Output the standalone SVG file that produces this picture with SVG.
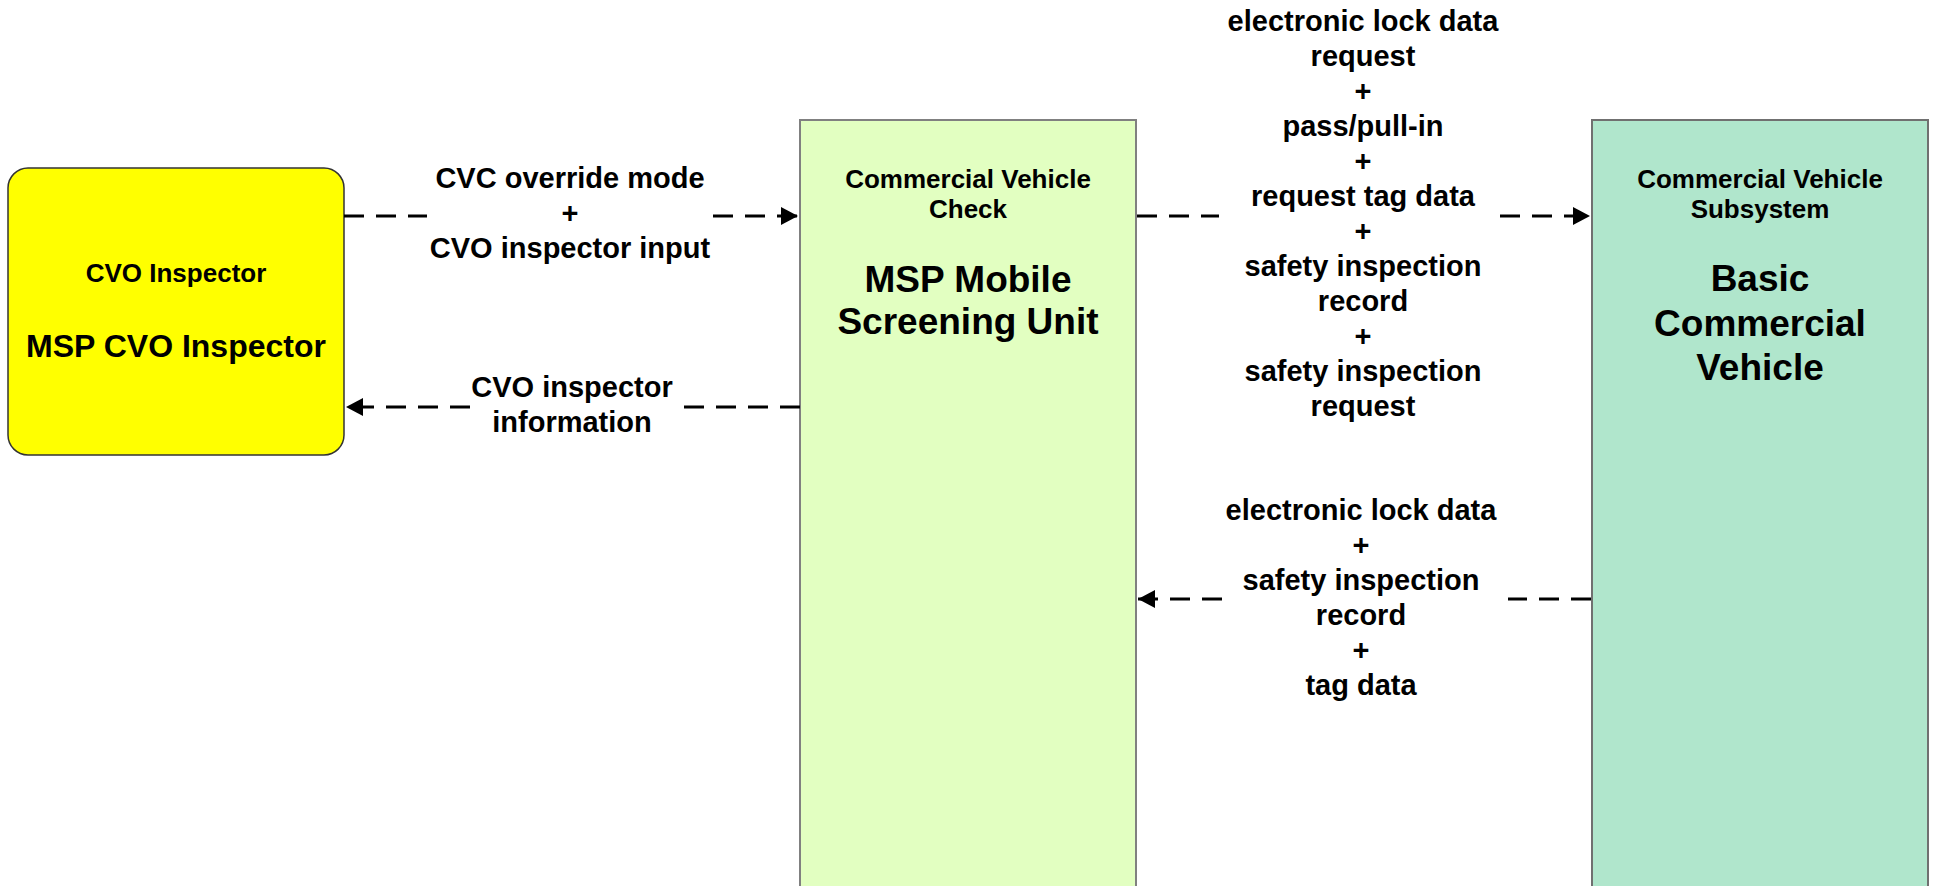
<svg xmlns="http://www.w3.org/2000/svg" width="1937" height="886" viewBox="0 0 1937 886">
<defs>
<style>
text{font-family:"Liberation Sans",Arial,sans-serif;font-weight:bold;fill:#000;text-anchor:middle}
.sub{font-size:26px}
.big{font-size:37px}
.lbl{font-size:29px}
.conn{fill:none;stroke:#000;stroke-width:3;stroke-dasharray:20 12}
</style>
<marker id="arr" viewBox="0 0 17 18" refX="17" refY="9" markerWidth="17" markerHeight="18" markerUnits="userSpaceOnUse" orient="auto">
<path d="M0,0 L17,9 L0,18 Z" fill="#000"/>
</marker>
</defs>
<rect width="1937" height="886" fill="#fff"/>
<g id="cvo-inspector">
<rect x="8" y="168" width="336" height="287" rx="20" ry="20" fill="#ffff00" stroke="#333" stroke-width="1.5"/>
<text class="sub" x="176" y="282">CVO Inspector</text>
<text x="176" y="357" style="font-size:32px">MSP CVO Inspector</text>
</g>
<g id="msp-mobile-screening-unit">
<rect x="800" y="120" width="336" height="790" fill="#e2ffc1" stroke="#808080" stroke-width="2"/>
<text class="sub" x="968" y="188">Commercial Vehicle</text>
<text class="sub" x="968" y="218">Check</text>
<text class="big" x="968" y="292">MSP Mobile</text>
<text class="big" x="968" y="334">Screening Unit</text>
</g>
<g id="basic-commercial-vehicle">
<rect x="1592" y="120" width="336" height="790" fill="#b0e6cc" stroke="#707070" stroke-width="2"/>
<text class="sub" x="1760" y="188">Commercial Vehicle</text>
<text class="sub" x="1760" y="218">Subsystem</text>
<text class="big" x="1760" y="291">Basic</text>
<text class="big" x="1760" y="336">Commercial</text>
<text class="big" x="1760" y="380">Vehicle</text>
</g>
<g id="connectors">
<path class="conn" d="M344,216 H427"/>
<path class="conn" d="M713,216 H798" marker-end="url(#arr)"/>
<text class="lbl" x="570" y="188">CVC override mode</text>
<text class="lbl" x="570" y="223">+</text>
<text class="lbl" x="570" y="258">CVO inspector input</text>

<path class="conn" d="M800,407 H673"/>
<path class="conn" d="M470,407 H346" marker-end="url(#arr)"/>
<text class="lbl" x="572" y="397">CVO inspector</text>
<text class="lbl" x="572" y="432">information</text>

<path class="conn" d="M1137,216 H1219"/>
<path class="conn" d="M1500,216 H1590" marker-end="url(#arr)"/>
<text class="lbl" x="1363" y="31">electronic lock data</text>
<text class="lbl" x="1363" y="66">request</text>
<text class="lbl" x="1363" y="101">+</text>
<text class="lbl" x="1363" y="136">pass/pull-in</text>
<text class="lbl" x="1363" y="171">+</text>
<text class="lbl" x="1363" y="206">request tag data</text>
<text class="lbl" x="1363" y="241">+</text>
<text class="lbl" x="1363" y="276">safety inspection</text>
<text class="lbl" x="1363" y="311">record</text>
<text class="lbl" x="1363" y="346">+</text>
<text class="lbl" x="1363" y="381">safety inspection</text>
<text class="lbl" x="1363" y="416">request</text>

<path class="conn" d="M1591,599 H1508"/>
<path class="conn" d="M1222,599 H1138" marker-end="url(#arr)"/>
<text class="lbl" x="1361" y="520">electronic lock data</text>
<text class="lbl" x="1361" y="555">+</text>
<text class="lbl" x="1361" y="590">safety inspection</text>
<text class="lbl" x="1361" y="625">record</text>
<text class="lbl" x="1361" y="660">+</text>
<text class="lbl" x="1361" y="695">tag data</text>
</g>
</svg>
